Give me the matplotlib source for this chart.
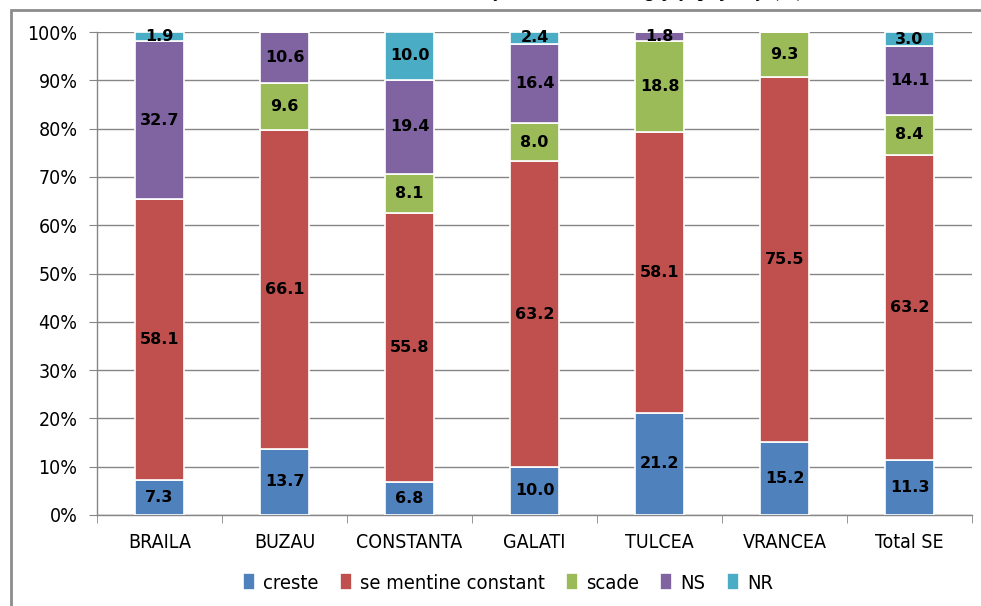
import matplotlib
matplotlib.use("Agg")
import matplotlib.pyplot as plt
from matplotlib.patches import Rectangle
from matplotlib.font_manager import FontProperties, fontManager
import numpy as np

categories = ["BRAILA", "BUZAU", "CONSTANTA", "GALATI", "TULCEA", "VRANCEA", "Total SE"]
series_names = ["creste", "se mentine constant", "scade", "NS", "NR"]
creste = [7.3, 13.7, 6.8, 10.0, 21.2, 15.2, 11.3]
constant = [58.1, 66.1, 55.8, 63.2, 58.1, 75.5, 63.2]
scade = [0.0, 9.6, 8.1, 8.0, 18.8, 9.3, 8.4]
ns = [32.7, 10.6, 19.4, 16.4, 1.8, 0.0, 14.1]
nr = [1.9, 0.0, 10.0, 2.4, 0.0, 0.0, 3.0]
yticklabels = ["0%", "10%", "20%", "30%", "40%", "50%", "60%", "70%", "80%", "90%", "100%"]
title_text = "Evoluţia numărului de angajaţi, pe judeţe (%)"

colors = ["#4F81BD", "#C0504D", "#9BBB59", "#8064A2", "#4BACC6"]

cond = [f for f in fontManager.ttflist
        if f.name == "DejaVu Sans" and f.stretch == "condensed"
        and f.weight in (400, "normal") and f.style == "normal"]
if cond:
    tick_fp = FontProperties(fname=cond[0].fname, size=14)
    leg_fp = FontProperties(fname=cond[0].fname, size=14.5)
else:
    tick_fp = FontProperties(family="Liberation Sans", size=13)
    leg_fp = FontProperties(family="Liberation Sans", size=14.5)

fig = plt.figure(figsize=(9.81, 6.06), dpi=100)
ax = fig.add_axes([97/981, 1-515/606, (972-97)/981, (515-32)/606])

x = np.arange(len(categories))
bottom = np.zeros(len(categories))
series = [creste, constant, scade, ns, nr]
for name, vals, col in zip(series_names, series, colors):
    vals = np.array(vals)
    ax.bar(x, vals, 0.39, bottom=bottom, color=col, edgecolor="white",
           linewidth=1.2, label=name, zorder=3)
    for xi, v, b in zip(x, vals, bottom):
        if v > 0:
            ax.text(xi, b + v/2, f"{v:.1f}", ha="center", va="center",
                    fontsize=11.5, fontweight="bold", color="black",
                    family="DejaVu Sans", zorder=4)
    bottom = bottom + vals

ax.set_xlim(-0.5, len(categories) - 0.5)
ax.set_ylim(0, 100)
ax.set_yticks(np.arange(0, 101, 10))
ax.set_yticklabels(yticklabels, fontproperties=tick_fp)
ax.set_xticks(x)
ax.set_xticklabels(categories, fontproperties=tick_fp)
ax.set_xticks(np.arange(-0.5, len(categories), 1), minor=True)
ax.tick_params(axis="x", which="major", length=0, pad=13)
ax.tick_params(axis="x", which="minor", length=6, color="#868686", direction="out")
ax.tick_params(axis="y", length=6, color="#868686", direction="out", pad=8)
ax.grid(axis="y", color="#868686", linewidth=1.0, zorder=0)
for s in ["top", "right"]:
    ax.spines[s].set_visible(False)
for s in ["left", "bottom"]:
    ax.spines[s].set_color("#868686")
    ax.spines[s].set_linewidth(1.0)

fig.legend(loc="center", bbox_to_anchor=(508/981, 1-583/606), ncol=5,
           frameon=False, prop=leg_fp,
           handlelength=0.6, handleheight=0.9, handletextpad=0.4,
           columnspacing=1.05)

# outer frame (partially cut off)
fig.patches.append(Rectangle((11/981, -0.2), 1.5, 1 - 10/606 + 0.2,
                             transform=fig.transFigure, fill=False,
                             edgecolor="#8C8C8C", linewidth=2.0))
# cut-off title
fig.text(625/981, 1 + 3/606, title_text, ha="center", va="baseline",
         fontsize=13, fontweight="bold", family="Liberation Serif")

fig.savefig("out.png", dpi=100)
